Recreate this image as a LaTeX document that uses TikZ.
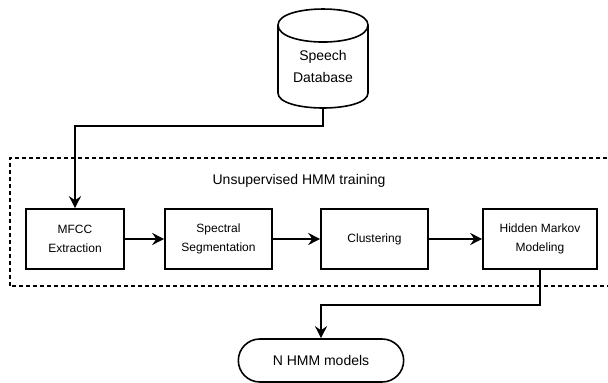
\documentclass[tikz,border=0pt]{standalone}
\usepackage{fontspec}
\setmainfont{Liberation Sans}
\usetikzlibrary{arrows.meta,shapes.misc}
\begin{document}
\begin{tikzpicture}[x=1pt,y=1pt,
  line width=1.6pt,
  proc/.style={draw, rectangle, minimum height=60pt, align=center, inner sep=2pt,
    font=\fontsize{12}{19}\selectfont},
  conn/.style={-{Stealth[length=12pt,width=12pt,inset=4pt]}, line join=miter},
  grp/.style={draw, dash pattern=on 4pt off 3pt}
]
\useasboundingbox (0,0) rectangle (608,383);
% group
\draw[grp] (10,97) rectangle (620,225);
\node[font=\fontsize{14}{17}\selectfont] (title) at (299,202) {Unsupervised HMM training};
% database cylinder
\node[minimum width=90pt, minimum height=99pt, inner sep=0pt] (db) at (323,324.5) {};
\draw (278,290) -- (278,358) .. controls (278,379.3) and (368,379.3) .. (368,358)
  -- (368,290) .. controls (368,270) and (278,270) .. cycle;
\draw (278,358) .. controls (278,335.3) and (368,335.3) .. (368,358);
\node[align=center, font=\fontsize{14}{22}\selectfont] (dbt) at (323,317) {Speech\\Database};
% process boxes
\node[proc, minimum width=98pt] (mfcc) at (75,144) {MFCC\\Extraction};
\node[proc, minimum width=107pt] (spec) at (218.5,144) {Spectral\\Segmentation};
\node[proc, minimum width=107pt] (clus) at (374.5,144) {Clustering};
\node[proc, minimum width=114pt] (hmm) at (540,144) {Hidden Markov\\Modeling};
% terminal
\node[draw, rounded rectangle, minimum width=172pt, minimum height=43pt,
  font=\fontsize{14}{17}\selectfont] (term) at (321,22.5) {N HMM models};
% connectors
\draw[conn] (db.south) -- ++(0,-17) -| (mfcc.north);
\draw[conn] (mfcc) -- (spec);
\draw[conn] (spec) -- (clus);
\draw[conn] (clus) -- (hmm);
\draw[conn] (hmm.south) -- ++(0,-35) -| (term.north);
\end{tikzpicture}
\end{document}
